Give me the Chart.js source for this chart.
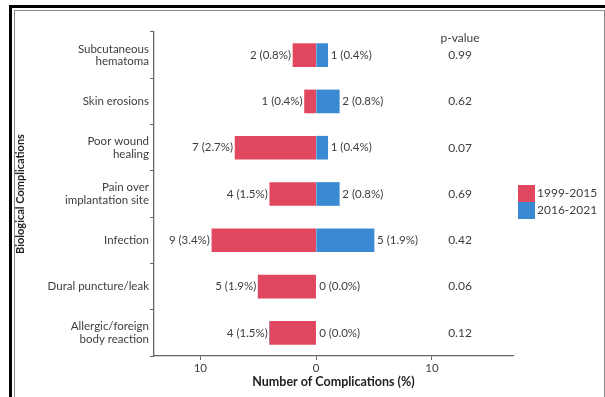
<!DOCTYPE html>
<html lang="en">
<head>
  <meta charset="UTF-8" />
  <title>Biological Complications</title>
  <script src="https://cdn.jsdelivr.net/npm/chart.js"></script>
  <style>
    body {
      margin: 0;
      background: #fff;
      font-family: Lato, sans-serif;
    }
    .frame-outer {
      position: absolute;
      left: 9px;
      top: 5px;
      width: 600px;
      height: 400px;
      border-top: 3px solid #000;
      border-left: 3px solid #000;
    }
    .frame-inner {
      position: absolute;
      left: 14px;
      top: 10px;
      width: 589px;
      height: 400px;
      border: 1px solid #888;
      border-bottom: none;
    }
    .wrap {
      position: absolute;
      left: 0;
      top: 0;
      width: 605px;
      height: 397px;
    }
  </style>
</head>
<body>

<div class="frame-outer"></div>
<div class="frame-inner"></div>
<div class="wrap"><canvas id="chart"></canvas></div>

<script>
const categories = [
  ['Subcutaneous', 'hematoma'],
  'Skin erosions',
  ['Poor wound', 'healing'],
  ['Pain over', 'implantation site'],
  'Infection',
  'Dural puncture/leak',
  ['Allergic/foreign', 'body reaction']
];
const series = ['1999-2015', '2016-2021'];
const countsEarly = [2, 1, 7, 4, 9, 5, 4];
const pctEarly = ['0.8', '0.4', '2.7', '1.5', '3.4', '1.9', '1.5'];
const countsLate = [1, 2, 1, 2, 5, 0, 0];
const pctLate = ['0.4', '0.8', '0.4', '0.8', '1.9', '0.0', '0.0'];
const pValues = ['0.99', '0.62', '0.07', '0.69', '0.42', '0.06', '0.12'];
const xTicks = [-10, 0, 10];

const RED = '#e1485f';
const BLUE = '#3a89d3';
const TEXT = '#3d3d3d';

// labels next to bars, p-value column and legend
const annotate = {
  id: 'annotate',
  afterDatasetsDraw(chart) {
    const ctx = chart.ctx;
    const area = chart.chartArea;
    const xs = chart.scales.x;
    const ys = chart.scales.y;
    ctx.save();
    ctx.font = '11.5px Lato';
    ctx.fillStyle = TEXT;
    ctx.textBaseline = 'middle';

    categories.forEach((c, i) => {
      const y = ys.getPixelForValue(i);
      ctx.textAlign = 'right';
      ctx.fillText(countsEarly[i] + ' (' + pctEarly[i] + '%)', xs.getPixelForValue(-countsEarly[i]) - 2, y);
      ctx.textAlign = 'left';
      ctx.fillText(countsLate[i] + ' (' + pctLate[i] + '%)', xs.getPixelForValue(countsLate[i]) + 3, y);
    });

    // p-values
    const pX = area.right - 53;
    ctx.textAlign = 'center';
    ctx.font = '12px Lato';
    ctx.fillText('p-value', pX, ys.getPixelForValue(0) - 17);
    pValues.forEach((p, i) => {
      ctx.fillText(p, pX, ys.getPixelForValue(i));
    });

    // legend
    const lx = area.right + 5;
    const ly = 185;
    chart.data.datasets.forEach((ds, i) => {
      ctx.fillStyle = ds.backgroundColor;
      ctx.fillRect(lx, ly + i * 17, 17, 17);
      ctx.fillStyle = TEXT;
      ctx.textAlign = 'left';
      ctx.fillText(ds.label, lx + 19, ly + i * 17 + 8.5);
    });
    ctx.restore();
  }
};

new Chart(document.getElementById('chart'), {
  type: 'bar',
  data: {
    labels: categories,
    datasets: [
      {
        label: series[0],
        data: countsEarly.map(v => -v),
        backgroundColor: RED,
        barThickness: 23
      },
      {
        label: series[1],
        data: countsLate,
        backgroundColor: BLUE,
        barThickness: 23
      }
    ]
  },
  options: {
    indexAxis: 'y',
    responsive: true,
    maintainAspectRatio: false,
    animation: false,
    layout: {
      padding: { top: 32, right: 92, left: 14, bottom: 8 }
    },
    plugins: {
      legend: { display: false },
      tooltip: { enabled: false }
    },
    scales: {
      x: {
        stacked: true,
        min: -14,
        max: 17,
        afterBuildTicks: s => { s.ticks = xTicks.map(v => ({ value: v })); },
        afterFit: s => { s.height = 33; },
        grid: { drawOnChartArea: false, drawTicks: true, tickLength: 4, color: '#666' },
        border: { color: '#666', width: 1.3 },
        ticks: {
          padding: 1,
          color: TEXT,
          font: { family: 'Lato', size: 11.5 },
          callback: v => Math.abs(v)
        },
        title: {
          display: true,
          text: 'Number of Complications (%)',
          color: '#222',
          padding: 0,
          font: { family: 'Lato', size: 12.5, weight: 'bold' }
        }
      },
      y: {
        stacked: true,
        afterFit: s => { s.width = 140; },
        grid: { drawOnChartArea: false, drawTicks: true, tickLength: 4, color: '#666' },
        border: { color: '#666', width: 1.3 },
        ticks: {
          padding: 1,
          color: TEXT,
          autoSkip: false,
          font: { family: 'Lato', size: 11.5, lineHeight: 1.1 }
        },
        title: {
          display: true,
          text: 'Biological Complications',
          color: '#222',
          padding: 0,
          font: { family: 'Lato', size: 11, weight: 'bold' }
        }
      }
    }
  },
  plugins: [annotate]
});
</script>
</body>
</html>
